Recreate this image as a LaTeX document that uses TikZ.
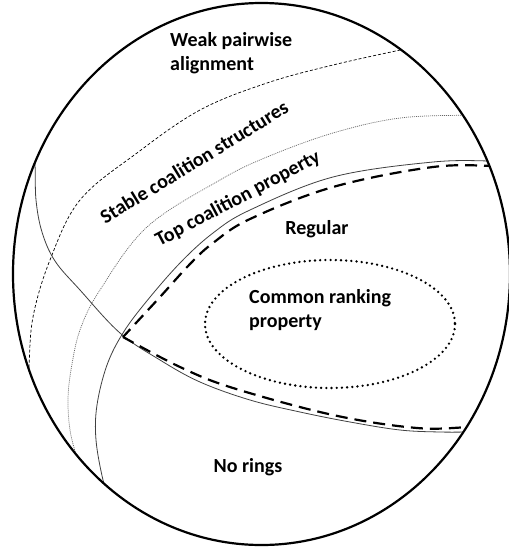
\documentclass[tikz,border=0pt]{standalone}
\usepackage{fontspec}
\setmainfont{Carlito}
\begin{document}
\begin{tikzpicture}[x=1pt,y=-1pt,
  outer/.style={line width=2.2pt,black},
  thinsolid/.style={line width=0.8pt,black!75},
  finedash/.style={line width=0.7pt,black,dash pattern=on 3pt off 2pt},
  finedot/.style={line width=0.7pt,black!60,dash pattern=on 1pt off 1pt},
  thickdash/.style={line width=2.2pt,black,dash pattern=on 12pt off 7pt},
  dotring/.style={line width=2.6pt,black,dash pattern=on 0pt off 5.2pt,line cap=round},
  lbl/.style={font=\bfseries\fontsize{20}{24}\selectfont,inner sep=0pt}]
\useasboundingbox (0,0) rectangle (509,550);
\fill[white] (0,0) rectangle (509,550);
\begin{scope}
\clip (261.5,274) ellipse [x radius=248.5, y radius=271];
\draw[finedash] plot[smooth,tension=0.6] coordinates {(425,45) (405,49) (333,65) (267,83) (200,110) (137,153) (80,200) (50,260) (33,317) (29,368) (29,385)};
\draw[finedot] plot[smooth,tension=0.6] coordinates {(495,114) (472,115) (400,118) (333,133) (267,157) (220,180) (147,227) (100,290) (80,330) (71,370) (68,400) (70,430) (76,455) (80,470)};
\draw[thinsolid] plot[smooth,tension=0.6] coordinates {(515,161) (495,161) (433,162) (333,177) (250,210) (213,233) (180,263) (146,302) (123,333) (107,365) (97,405) (96,440) (103,480) (110,500)};
\draw[thinsolid] plot[smooth,tension=0.6] coordinates {(32,140) (35,165) (36,200) (42,232) (55,261) (80,290) (120,333) (160,360) (200,382) (250,400) (300,412) (350,422) (400,430) (440,432) (473,432) (505,432)};
\draw[thickdash] plot[smooth,tension=0.6] coordinates {(515,166) (497,166) (433,167) (333,187) (250,219) (213,243) (190,264) (160,297) (123,337)};
\draw[thickdash] plot[smooth,tension=0.6] coordinates {(123,337) (180,367) (233,388) (333,415) (417,428) (473,427) (515,427)};
\end{scope}
\draw[outer] (261.5,274) ellipse [x radius=248.5, y radius=271];
\draw[dotring] (330,324) ellipse [x radius=125, y radius=64];
\node[lbl,anchor=west,align=left] (wpa) at (170,53) {Weak pairwise\\alignment};
\node[lbl,rotate=31.5] (scs) at (194,162) {Stable coalition structures};
\node[lbl,rotate=28] (tcp) at (238,199) {Top coalition property};
\node[lbl] (reg) at (317,229) {Regular};
\node[lbl,anchor=west,align=left] (crp) at (249,310) {Common ranking\\property};
\node[lbl] (nr) at (248,467) {No rings};
\end{tikzpicture}
\end{document}
